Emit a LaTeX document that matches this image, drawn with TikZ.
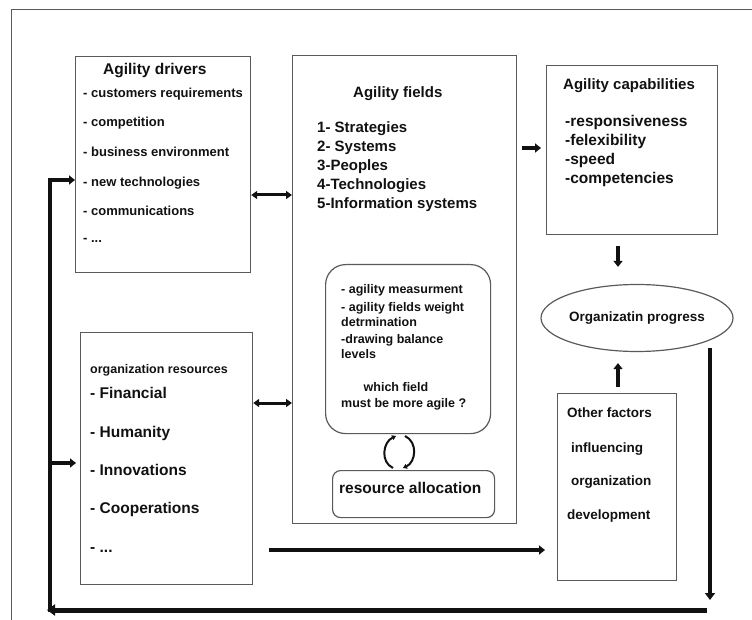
\documentclass[tikz,border=0pt]{standalone}
\usepackage{fontspec}
\setmainfont{Liberation Sans}
\definecolor{frame}{HTML}{5A5A5A}
\definecolor{ink}{HTML}{111111}
\usetikzlibrary{arrows.meta, shapes.geometric}
\tikzset{
  box/.style={draw=frame, line width=1.2pt, anchor=north west, inner sep=0pt},
  ln/.style={anchor=base west, inner sep=0pt, text=ink},
  bigarrow/.style={ink, line width=4pt, -{Triangle[length=7pt, width=10pt]}},
  midarrow/.style={ink, line width=3.5pt, -{Triangle[length=6pt, width=9pt]}},
  twoway/.style={ink, line width=3pt, {Triangle[length=6pt, width=8pt]}-{Triangle[length=6pt, width=8pt]}},
  cyc/.style={ink, line width=2pt, -{Triangle[length=4pt, width=5pt]}}
}

\begin{document}
\begin{tikzpicture}[x=1pt, y=-1pt]
\useasboundingbox (0,0) rectangle (752,620);

% Frame of the page
\draw[frame, line width=1pt] (752,10) -- (11,10) -- (11,620);

% Boxes
\node[box, minimum width=175pt, minimum height=216pt] (drivers) at (75,56) {};
\node[box, minimum width=224pt, minimum height=468pt] (fields) at (292,55) {};
\node[box, minimum width=171pt, minimum height=169pt] (caps) at (546,65) {};
\node[box, rounded corners=20pt, minimum width=165pt, minimum height=169pt] (measure) at (325,264) {};
\node[box, rounded corners=8pt, minimum width=162pt, minimum height=47pt] (alloc) at (332,470) {};
\node[box, minimum width=172pt, minimum height=252pt] (resources) at (80,332) {};
\node[box, minimum width=119pt, minimum height=187pt] (others) at (557,393) {};
\node[draw=frame, line width=1.2pt, ellipse, minimum width=157pt, minimum height=67pt, inner sep=0pt,
  font=\fontsize{13.5}{16}\selectfont\bfseries, text=ink] (progress) at (637,318) {Organizatin progress};

% Agility drivers
\node[ln, font=\fontsize{15.5}{18}\selectfont\bfseries] (drvtitle) at (103,75) {Agility drivers};
\node[ln, font=\fontsize{13}{16}\selectfont\bfseries] (drv1) at (83,98) {- customers requirements};
\node[ln, font=\fontsize{13}{16}\selectfont\bfseries] (drv2) at (83,127) {- competition};
\node[ln, font=\fontsize{13}{16}\selectfont\bfseries] (drv3) at (83,157) {- business environment};
\node[ln, font=\fontsize{13}{16}\selectfont\bfseries] (drv4) at (83,187) {- new technologies};
\node[ln, font=\fontsize{13}{16}\selectfont\bfseries] (drv5) at (83,216) {- communications};
\node[ln, font=\fontsize{13}{16}\selectfont\bfseries] (drv6) at (83,243) {- ...};

% Agility fields
\node[ln, font=\fontsize{15}{18}\selectfont\bfseries] (fldtitle) at (353,98) {Agility fields};
\node[ln, font=\fontsize{15}{18}\selectfont\bfseries] (fld1) at (317,133) {1- Strategies};
\node[ln, font=\fontsize{15}{18}\selectfont\bfseries] (fld2) at (317,152) {2- Systems};
\node[ln, font=\fontsize{15}{18}\selectfont\bfseries] (fld3) at (317,171) {3-Peoples};
\node[ln, font=\fontsize{15}{18}\selectfont\bfseries] (fld4) at (317,190) {4-Technologies};
\node[ln, font=\fontsize{15}{18}\selectfont\bfseries] (fld5) at (317,209) {5-Information systems};

% Measurement steps
\node[ln, font=\fontsize{12.5}{15}\selectfont\bfseries] (msr1) at (341,294) {- agility measurment};
\node[ln, font=\fontsize{12.5}{15}\selectfont\bfseries] (msr2) at (341,311) {- agility fields weight};
\node[ln, font=\fontsize{12.5}{15}\selectfont\bfseries] (msr3) at (341,326) {detrmination};
\node[ln, font=\fontsize{12.5}{15}\selectfont\bfseries] (msr4) at (341,343) {-drawing balance};
\node[ln, font=\fontsize{12.5}{15}\selectfont\bfseries] (msr5) at (341,358) {levels};
\node[ln, anchor=base, font=\fontsize{12.5}{15}\selectfont\bfseries] (msr6) at (396,391) {which field};
\node[ln, font=\fontsize{12.5}{15}\selectfont\bfseries] (msr7) at (341,407) {must be more agile ?};
\node[ln, font=\fontsize{15.5}{18}\selectfont\bfseries] (alloctxt) at (339,493) {resource allocation};

% Agility capabilities
\node[ln, font=\fontsize{15}{18}\selectfont\bfseries] (captitle) at (563,90) {Agility capabilities};
\node[ln, font=\fontsize{15.5}{18}\selectfont\bfseries] (cap1) at (565,127) {-responsiveness};
\node[ln, font=\fontsize{15.5}{18}\selectfont\bfseries] (cap2) at (565,146) {-felexibility};
\node[ln, font=\fontsize{15.5}{18}\selectfont\bfseries] (cap3) at (565,165) {-speed};
\node[ln, font=\fontsize{15.5}{18}\selectfont\bfseries] (cap4) at (565,184) {-competencies};

% Other factors
\node[ln, font=\fontsize{13.5}{16}\selectfont\bfseries] (oth1) at (567,417) {Other factors};
\node[ln, font=\fontsize{13.5}{16}\selectfont\bfseries] (oth2) at (571,452) {influencing};
\node[ln, font=\fontsize{13.5}{16}\selectfont\bfseries] (oth3) at (571,485) {organization};
\node[ln, font=\fontsize{13.5}{16}\selectfont\bfseries] (oth4) at (567,519) {development};

% Organization resources
\node[ln, font=\fontsize{12.5}{15}\selectfont\bfseries] (restitle) at (90,373) {organization resources};
\node[ln, font=\fontsize{15.5}{18}\selectfont\bfseries] (res1) at (90,398) {- Financial};
\node[ln, font=\fontsize{15.5}{18}\selectfont\bfseries] (res2) at (90,437) {- Humanity};
\node[ln, font=\fontsize{15.5}{18}\selectfont\bfseries] (res3) at (90,475) {- Innovations};
\node[ln, font=\fontsize{15.5}{18}\selectfont\bfseries] (res4) at (90,513) {- Cooperations};
\node[ln, font=\fontsize{15.5}{18}\selectfont\bfseries] (res5) at (90,552) {- ...};

% Arrows between boxes
\draw[twoway] (drivers.east |- 0,195) -- (fields.west |- 0,195);
\draw[twoway] (resources.east |- 0,403) -- (fields.west |- 0,403);
\draw[midarrow, shorten <=5pt, shorten >=5pt] (fields.east |- 0,148) -- (caps.west |- 0,148);
\draw[midarrow, shorten <=11pt, shorten >=17pt] (caps.south -| 618,0) -- (progress.north -| 618,0);
\draw[midarrow, shorten <=6pt, shorten >=11pt] (others.north -| 618,0) -- (progress.south -| 618,0);
\draw[midarrow, shorten <=16pt, shorten >=12pt] (resources.east |- 0,550) -- (others.west |- 0,550);

% Cycle between measurement and allocation
\coordinate (cyctop) at (400,436);
\coordinate (cycbot) at (400,468);
\draw[cyc] ([xshift=-7pt]cycbot) .. controls +(-13,-6) and +(-13,6) .. ([xshift=-4pt]cyctop);
\draw[cyc] ([xshift=5pt]cyctop) .. controls +(13,6) and +(13,-6) .. ([xshift=3pt]cycbot);

% Feedback loop
\coordinate (loopne) at (710,348);
\coordinate (loopse) at (710,600);
\coordinate (loopbr) at (707,610);
\coordinate (loopbl) at (47,610);
\coordinate (loopsw) at (50,612);
\coordinate (loopnw) at (50,178);
\draw[bigarrow] (loopne) -- (loopse);
\draw[ink, line width=5pt, -{Triangle[length=8pt, width=11pt]}] (loopbr) -- (loopbl);
\draw[ink, line width=4pt] (loopsw) -- (loopnw);
\draw[midarrow] ([xshift=-2pt]loopnw |- 0,180) -- (drivers.west |- 0,180);
\draw[midarrow, shorten >=4pt] (loopnw |- 0,463) -- (resources.west |- 0,463);
\end{tikzpicture}
\end{document}
